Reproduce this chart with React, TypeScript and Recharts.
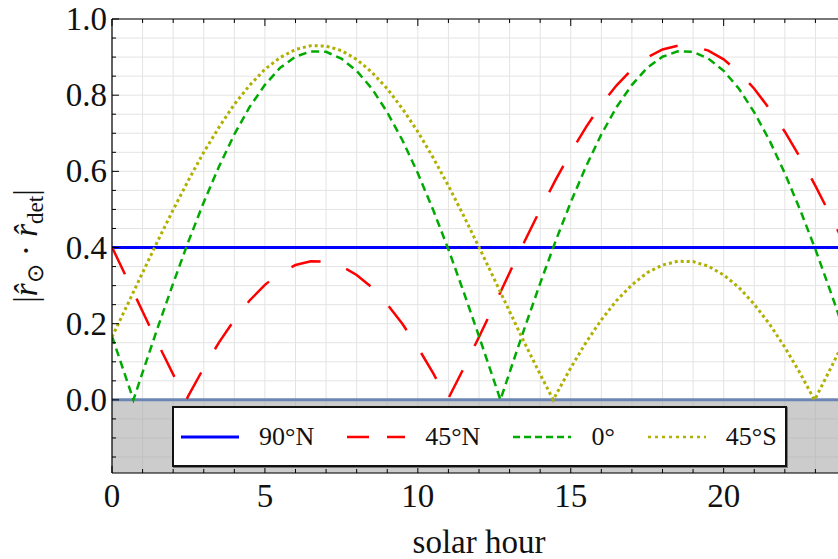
import React from "react";
import {
  LineChart,
  Line,
  XAxis,
  YAxis,
  CartesianGrid,
  ReferenceArea,
  ReferenceLine,
  Label,
} from "recharts";

// ---------- data ----------
const hours = [
  0, 0.5, 1, 1.5, 2, 2.5, 3, 3.5, 4, 4.5, 5, 5.5, 6, 6.5, 7, 7.5, 8, 8.5, 9, 9.5,
  10, 10.5, 11, 11.5, 12, 12.5, 13, 13.5, 14, 14.5, 15, 15.5, 16, 16.5, 17, 17.5,
  18, 18.5, 19, 19.5, 20, 20.5, 21, 21.5, 22, 22.5, 23, 23.5, 24,
];

const lat90N = [0.4, 0.4];
const lat90NHours = [0, 24];

const lat45N = [
  0.401, 0.317, 0.232, 0.148, 0.067, 0.011, 0.084, 0.151, 0.21, 0.261, 0.302,
  0.334, 0.354, 0.364, 0.363, 0.351, 0.328, 0.295, 0.251, 0.199, 0.138, 0.07,
  0.004, 0.083, 0.165, 0.249, 0.334, 0.418, 0.499, 0.577, 0.65, 0.716, 0.776,
  0.826, 0.868, 0.899, 0.92, 0.93, 0.929, 0.917, 0.894, 0.86, 0.817, 0.764,
  0.704, 0.636, 0.562, 0.483, 0.401,
];
const lat45NZeros = [2.43, 10.97];

const lat0 = [
  0.167, 0.048, 0.072, 0.191, 0.306, 0.416, 0.519, 0.613, 0.697, 0.769, 0.827,
  0.872, 0.901, 0.915, 0.914, 0.896, 0.864, 0.817, 0.755, 0.681, 0.595, 0.499,
  0.395, 0.283, 0.167, 0.048, 0.072, 0.191, 0.306, 0.416, 0.519, 0.613, 0.697,
  0.769, 0.827, 0.872, 0.901, 0.915, 0.914, 0.896, 0.864, 0.817, 0.755, 0.681,
  0.595, 0.499, 0.395, 0.283, 0.167,
];
const lat0Zeros = [0.7, 12.7];

const lat45S = [
  0.165, 0.249, 0.334, 0.418, 0.499, 0.577, 0.65, 0.716, 0.776, 0.826, 0.868,
  0.899, 0.92, 0.93, 0.929, 0.917, 0.894, 0.86, 0.817, 0.764, 0.704, 0.636,
  0.562, 0.483, 0.401, 0.317, 0.232, 0.148, 0.067, 0.011, 0.084, 0.151, 0.21,
  0.261, 0.302, 0.334, 0.354, 0.364, 0.363, 0.351, 0.328, 0.295, 0.251, 0.199,
  0.138, 0.07, 0.004, 0.083, 0.165,
];
const lat45SZeros = [14.43, 22.97];

const xTicks = [
  0, 1, 2, 3, 4, 5, 6, 7, 8, 9, 10, 11, 12, 13, 14, 15, 16, 17, 18, 19, 20, 21,
  22, 23, 24,
];
const xLabelTicks = [0, 5, 10, 15, 20];
const yTicks = [
  -0.15, -0.1, -0.05, 0, 0.05, 0.1, 0.15, 0.2, 0.25, 0.3, 0.35, 0.4, 0.45, 0.5,
  0.55, 0.6, 0.65, 0.7, 0.75, 0.8, 0.85, 0.9, 0.95, 1.0,
];
const yLabelTicks = [0, 0.2, 0.4, 0.6, 0.8, 1.0];

const seriesNames = ["90°N", "45°N", "0°", "45°S"];
const seriesColors = ["#0000ff", "#ff0000", "#00aa00", "#b0b000"];
const seriesDash = ["", "30 27", "8 5", "3 3"];
const legendDash = ["", "22 18", "7 4", "3 4"];
const seriesWidths = [3, 2.5, 2.5, 3];

// ---------- layout ----------
const CHART_W = 860;
const CHART_H = 559;
const PLOT_LEFT = 112;
const PLOT_TOP = 19;
const PLOT_BOTTOM = 473;
const FONT = "'Liberation Serif', 'Times New Roman', serif";

function build(xs: number[], ys: number[], zeros: number[]) {
  const pts = xs.map((x, i) => ({ x, y: ys[i] }));
  zeros.forEach((z) => pts.push({ x: z, y: 0 }));
  pts.sort((a, b) => a.x - b.x);
  return pts;
}

const seriesData = [
  build(lat90NHours, lat90N, []),
  build(hours, lat45N, lat45NZeros),
  build(hours, lat0, lat0Zeros),
  build(hours, lat45S, lat45SZeros),
];

const near = (v: number, arr: number[]) => arr.some((a) => Math.abs(a - v) < 1e-6);

const XTick = (props: any) => {
  const { x, payload } = props;
  const v = payload.value;
  const major = near(v, xLabelTicks);
  const len = major ? 7 : 4;
  return (
    <g>
      <line x1={x} x2={x} y1={PLOT_BOTTOM} y2={PLOT_BOTTOM - len} stroke="#000" strokeWidth={1} />
      <line x1={x} x2={x} y1={PLOT_TOP} y2={PLOT_TOP + len} stroke="#000" strokeWidth={1} />
      {major && (
        <text x={x} y={507} textAnchor="middle" fontFamily={FONT} fontSize={33} fill="#111">
          {String(v)}
        </text>
      )}
    </g>
  );
};

const YTick = (props: any) => {
  const { y, payload } = props;
  const v = payload.value;
  const major = near(v, yLabelTicks);
  const len = major ? 7 : 4;
  return (
    <g>
      <line x1={PLOT_LEFT} x2={PLOT_LEFT + len} y1={y} y2={y} stroke="#000" strokeWidth={1} />
      {major && (
        <text x={PLOT_LEFT - 5} y={y + 11} textAnchor="end" fontFamily={FONT} fontSize={33} fill="#111">
          {v.toFixed(1)}
        </text>
      )}
    </g>
  );
};

const XTitle = (props: any) => {
  const vb = props.viewBox || { x: PLOT_LEFT, width: 734 };
  return (
    <text x={vb.x + vb.width / 2} y={553} textAnchor="middle" fontFamily={FONT} fontSize={33} fill="#111">
      solar hour
    </text>
  );
};

const YTitle = () => {
  const cy = (PLOT_TOP + PLOT_BOTTOM) / 2;
  return (
    <text transform="rotate(-90)" x={-cy} y={37} textAnchor="middle" fontFamily={FONT} fontSize={33} fill="#111">
      <tspan>|</tspan>
      <tspan fontStyle="italic">r̂</tspan>
      <tspan fontSize={23} dy={6}>⊙</tspan>
      <tspan dy={-6}> · </tspan>
      <tspan fontStyle="italic">r̂</tspan>
      <tspan fontSize={23} dy={6}>det</tspan>
      <tspan dy={-6}>|</tspan>
    </text>
  );
};

const LegendBox = () => (
  <div
    style={{
      position: "absolute",
      left: 172,
      top: 406,
      width: 615,
      height: 61,
      boxSizing: "border-box",
      border: "2px solid #111",
      boxShadow: "1px 1px 0 #777",
      background: "#fff",
      display: "flex",
      alignItems: "center",
      paddingLeft: 7,
      gap: 33,
      fontFamily: FONT,
      fontSize: 26,
      color: "#111",
    }}
  >
    {seriesNames.map((name, i) => (
      <div key={name} style={{ display: "flex", alignItems: "center", gap: 20 }}>
        <svg width={58} height={10} style={{ display: "block" }}>
          <line
            x1={0}
            x2={58}
            y1={5}
            y2={5}
            stroke={seriesColors[i]}
            strokeWidth={i === 0 ? 3 : 2.5}
            strokeDasharray={legendDash[i] || undefined}
          />
        </svg>
        <span style={{ lineHeight: "30px" }}>{name}</span>
      </div>
    ))}
  </div>
);

export default function App() {
  return (
    <div
      style={{
        position: "absolute",
        left: 0,
        top: 0,
        width: 838,
        height: 559,
        overflow: "hidden",
        background: "#fff",
      }}
    >
      <LineChart
        width={CHART_W}
        height={CHART_H}
        margin={{ top: PLOT_TOP, right: 14, bottom: 26, left: 0 }}
      >
        <CartesianGrid stroke="#e3e3e3" strokeWidth={1} />
        <XAxis
          type="number"
          dataKey="x"
          domain={[0, 24]}
          ticks={xTicks}
          interval={0}
          tickLine={false}
          axisLine={{ stroke: "#000", strokeWidth: 1.2 }}
          tick={(p: any) => <XTick {...p} />}
          height={60}
          allowDataOverflow
        >
          <Label content={(p: any) => <XTitle {...p} />} />
        </XAxis>
        <YAxis
          type="number"
          domain={[-0.192, 1]}
          ticks={yTicks}
          interval={0}
          tickLine={false}
          axisLine={{ stroke: "#000", strokeWidth: 1.2 }}
          tick={(p: any) => <YTick {...p} />}
          width={PLOT_LEFT}
          allowDataOverflow
        >
          <Label content={() => <YTitle />} />
        </YAxis>
        <ReferenceArea
          x1={0}
          x2={24}
          y1={-0.192}
          y2={0}
          fill="#aaaaaa"
          fillOpacity={0.6}
          stroke="none"
          ifOverflow="extendDomain"
        />
        <ReferenceLine y={0} stroke="#6b86b2" strokeWidth={3} />
        <ReferenceLine y={1} stroke="#000" strokeWidth={1.2} />
        {seriesData.map((d, i) => (
          <Line
            key={seriesNames[i]}
            name={seriesNames[i]}
            data={d}
            dataKey="y"
            type="linear"
            stroke={seriesColors[i]}
            strokeWidth={seriesWidths[i]}
            strokeDasharray={seriesDash[i] || undefined}
            dot={false}
            activeDot={false}
            isAnimationActive={false}
          />
        ))}
      </LineChart>
      <LegendBox />
    </div>
  );
}
